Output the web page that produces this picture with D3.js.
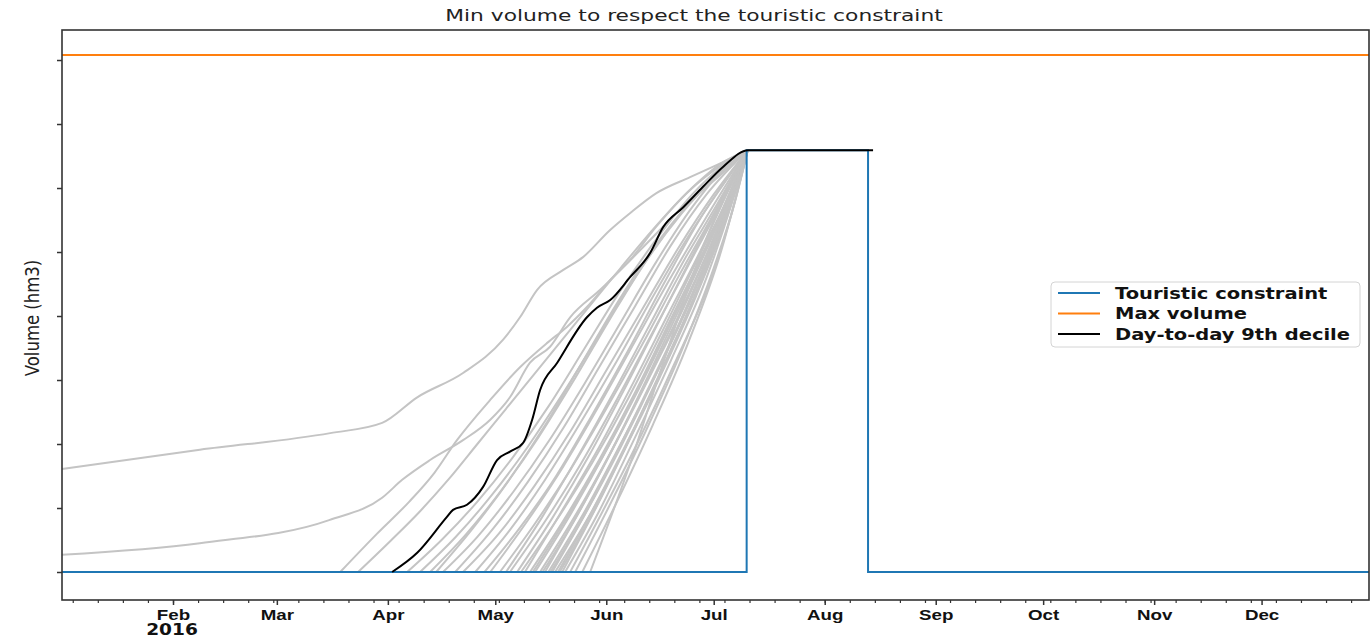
<!DOCTYPE html>
<html>
<head>
<meta charset="utf-8">
<script src="https://cdn.jsdelivr.net/npm/d3@7"></script>
<style>
body { margin: 0; background: #fff; }
svg { display: block; font-family: "DejaVu Sans", sans-serif; }
</style>
</head>
<body>
<svg width="1371" height="638"></svg>
<script>
// ---- data (x = day of 2016 counted from Jan 1, y = volume) ----
const yTicks = [0, 10, 20, 30, 40, 50, 60, 70, 80];
const monthLabels = ["Feb", "Mar", "Apr", "May", "Jun", "Jul", "Aug", "Sep", "Oct", "Nov", "Dec"];
const yearLabel = "2016";

const maxVolume = 80.8;

// touristic constraint : zero, then the summer plateau
const touristic = [[0, 0], [191.2, 0], [191.2, 65.9], [225.1, 65.9], [225.1, 0], [365, 0]];

// 9th decile of the scenarios, day by day
const decile9 = [[92.2, 0], [99.2, 3.0], [107.5, 8.6], [109.2, 9.7], [113.1, 10.5], [117.6, 13.3],
  [121.5, 17.5], [125.1, 18.8], [128.8, 20.2], [131.3, 23.8], [133.5, 28.4], [138.3, 32.7],
  [146.6, 39.8], [149.4, 41.3], [153.1, 42.5], [158.7, 46.1], [164.2, 49.8], [167.9, 53.9],
  [173.5, 57.0], [179, 60.2], [184.6, 63.3], [191.6, 65.9], [226.5, 65.9]];

// one min-volume trajectory per inflow scenario (gray)
const scenarios = [
  [[0, 16.1], [38.5, 19.1], [74.9, 21.7], [89.4, 23.3], [99.2, 27.3], [112, 31.1], [123.2, 36.3], [127.9, 39.8],
   [132.7, 44.1], [140, 47.2], [145.5, 49.2], [153, 53.4], [158.7, 56.1], [166, 59.2], [175.4, 61.7], [184, 63.9], [191.5, 65.9]],
  [[0, 2.7], [38.5, 4.5], [74.6, 8.1], [89.4, 11.6], [95, 14.4], [102.8, 17.5], [112, 20.6], [119.6, 23.8],
   [125.1, 27.3], [130.7, 32.7], [136.3, 35.2], [141.9, 39.8], [150.3, 44.1], [161.5, 50.3], [172.6, 56.6], [183.8, 62], [191.5, 65.9]],
  [[77.7, 0], [88, 6], [97, 11], [104, 15.5], [110.3, 20.6], [119.6, 26.9], [127.9, 32], [135.5, 35.8], [141, 38.3],
   [146.6, 41.4], [153.9, 46.1], [158.7, 48.8], [166, 54], [175, 59.5], [184, 63.5], [191.5, 65.9]],
  [[82.7, 0], [92, 5], [100, 9.5], [108, 14.5], [116, 20], [124, 25.5], [132, 31], [140, 36.5], [148, 42],
   [156, 47.5], [165, 53.5], [175, 59.5], [184, 63.8], [191.5, 65.9]],
  [[96.4, 0], [106, 5], [116, 11], [126, 18], [136, 26], [146, 35], [156, 44], [166, 52], [176, 59], [184, 63.2], [191.5, 65.9]],
  [[100, 0], [110, 5.5], [120, 12], [130, 19.5], [140, 28], [150, 37], [160, 46], [170, 54], [180, 60.5], [191.5, 65.9]],
  [[102.8, 0], [113, 6], [123, 13], [133, 21], [143, 30], [153, 39.5], [163, 48.5], [173, 56], [182, 61.5], [191.5, 65.9]],
  [[104.5, 0], [115, 7], [125, 14.5], [135, 23], [145, 32.5], [155, 42], [165, 50.5], [175, 57.5], [184, 62.5], [191.5, 65.9]],
  [[106.4, 0], [116, 5.5], [126, 12.5], [136, 20.5], [146, 29.5], [156, 39], [166, 48.5], [176, 57], [184, 62.5], [191.5, 65.9]],
  [[109.8, 0], [120, 6.5], [130, 14], [140, 22.5], [150, 32], [160, 41.5], [170, 51], [180, 59], [191.5, 65.9]],
  [[112, 0], [122, 6], [132, 13.5], [142, 22], [152, 31.5], [162, 41], [172, 50.5], [182, 59], [191.5, 65.9]],
  [[115.4, 0], [125, 6.5], [135, 14.5], [145, 23.5], [155, 33], [165, 43], [175, 52.5], [184, 60], [191.5, 65.9]],
  [[118, 0], [128, 7], [138, 15], [148, 24.5], [158, 34.5], [168, 45], [178, 55], [191.5, 65.9]],
  [[119.6, 0], [130, 8], [140, 16.5], [150, 26], [160, 36], [170, 46], [180, 55.5], [191.5, 65.9]],
  [[122.3, 0], [132, 7.5], [142, 16], [152, 25.5], [162, 35.5], [172, 46], [182, 56], [191.5, 65.9]],
  [[124, 0], [134, 8.5], [144, 18], [154, 28], [164, 38.5], [174, 49], [183, 57.5], [191.5, 65.9]],
  [[125.1, 0], [135, 8], [145, 17], [155, 27], [165, 37.5], [175, 48], [184, 57.5], [191.5, 65.9]],
  [[127.1, 0], [137, 8.5], [147, 18], [157, 28.5], [167, 39.5], [177, 50.5], [185, 59], [191.5, 65.9]],
  [[128.2, 0], [138, 8], [148, 17], [158, 27], [168, 38], [178, 49.5], [186, 58.5], [191.5, 65.9]],
  [[129.3, 0], [139, 9], [149, 18.5], [159, 29], [169, 40], [179, 51], [186, 59.5], [191.5, 65.9]],
  [[130.7, 0], [140, 8], [150, 17.5], [160, 28], [170, 39.5], [180, 51], [186.5, 59], [191.5, 65.9]],
  [[131.5, 0], [141, 8.5], [151, 18], [161, 28.5], [171, 40], [181, 52], [191.5, 65.9]],
  [[132.1, 0], [142, 9], [152, 19], [162, 30], [172, 41.5], [182, 53.5], [191.5, 65.9]],
  [[133.5, 0], [143, 8.5], [153, 18.5], [163, 29.5], [173, 41], [183, 53.5], [191.5, 65.9]],
  [[134.2, 0], [144, 9], [154, 19.5], [164, 31], [174, 43], [184, 55.5], [191.5, 65.9]],
  [[134.9, 0], [145, 10], [155, 20.5], [165, 31.5], [175, 43], [184, 55], [191.5, 65.9]],
  [[135.8, 0], [146, 9.5], [156, 20], [166, 31], [176, 43], [185, 55.5], [191.5, 65.9]],
  [[136.4, 0], [146, 9], [156, 19.5], [166, 31], [176, 43.5], [185, 56], [191.5, 65.9]],
  [[136.9, 0], [147, 10], [157, 21], [167, 32.5], [177, 44.5], [186, 57], [191.5, 65.9]],
  [[137.7, 0], [147, 8.5], [157, 19], [167, 30.5], [177, 43], [186, 56], [191.5, 65.9]],
  [[138.5, 0], [148, 9.5], [158, 20.5], [168, 32], [178, 45], [186, 56.5], [191.5, 65.9]],
  [[139, 0], [149, 10], [159, 21.5], [169, 33.5], [179, 46], [187, 58], [191.5, 65.9]],
  [[139.7, 0], [150, 11], [160, 22.5], [170, 34.5], [180, 47.5], [187, 58], [191.5, 65.9]],
  [[140.5, 0], [150, 9.5], [160, 21], [170, 33], [180, 46], [187, 57.5], [191.5, 65.9]],
  [[141.9, 0], [151, 9.5], [161, 20.5], [171, 32.5], [181, 45.5], [187.5, 57], [191.5, 65.9]],
  [[143.3, 0], [153, 10.5], [163, 22], [173, 34.5], [182, 47.5], [188, 58], [191.5, 65.9]],
  [[145.3, 0], [155, 11], [165, 23], [175, 36], [184, 50], [191.5, 65.9]],
  [[147.5, 0], [158.7, 17], [167.9, 32.7], [177.4, 48.3], [186.6, 60.8], [191.5, 65.9]]
];

const legendItems = [
  { label: "Touristic constraint", color: "#1f77b4" },
  { label: "Max volume", color: "#ff7f0e" },
  { label: "Day-to-day 9th decile", color: "#000000" }
];

// ---- layout ----
const svg = d3.select("svg");
const plot = { left: 62, top: 30, right: 1369, bottom: 600 };

const t0 = Date.UTC(2016, 0, 1);
const toDate = d => new Date(t0 + d * 864e5);

const x = d3.scaleUtc()
  .domain([toDate(0), toDate(365)])
  .range([plot.left, plot.right]);

const y = d3.scaleLinear()
  .domain([-4.375, 84.69])
  .range([plot.bottom, plot.top]);

const straight = d3.line().x(p => x(toDate(p[0]))).y(p => y(p[1]));
const smooth = d3.line().x(p => x(toDate(p[0]))).y(p => y(p[1])).curve(d3.curveMonotoneX);

// gray scenarios
svg.append("g")
  .selectAll("path")
  .data(scenarios)
  .enter()
  .append("path")
  .attr("d", smooth)
  .attr("fill", "none")
  .attr("stroke", "#c4c4c4")
  .attr("stroke-width", 2);

// touristic constraint
svg.append("path")
  .attr("d", straight(touristic))
  .attr("fill", "none")
  .attr("stroke", "#1f77b4")
  .attr("stroke-width", 2);

// max volume
svg.append("path")
  .attr("d", straight([[0, maxVolume], [365, maxVolume]]))
  .attr("fill", "none")
  .attr("stroke", "#ff7f0e")
  .attr("stroke-width", 2);

// decile
svg.append("path")
  .attr("d", smooth(decile9))
  .attr("fill", "none")
  .attr("stroke", "#000")
  .attr("stroke-width", 2);

// frame
svg.append("rect")
  .attr("x", plot.left)
  .attr("y", plot.top)
  .attr("width", plot.right - plot.left)
  .attr("height", plot.bottom - plot.top)
  .attr("fill", "none")
  .attr("stroke", "#333")
  .attr("stroke-width", 1.6);

// y axis: ticks only
const yAxis = svg.append("g")
  .attr("transform", `translate(${plot.left},0)`)
  .call(d3.axisLeft(y).tickValues(yTicks).tickSize(5).tickFormat(""));
yAxis.select(".domain").remove();
yAxis.selectAll("line").attr("stroke", "#333").attr("stroke-width", 1.5);

// x axis: weekly minor ticks + monthly major ticks
const minor = svg.append("g")
  .attr("transform", `translate(0,${plot.bottom})`)
  .call(d3.axisBottom(x).tickValues(d3.utcMondays(toDate(0), toDate(365))).tickSize(3).tickFormat(""));
minor.select(".domain").remove();
minor.selectAll("line").attr("stroke", "#333").attr("stroke-width", 1.2);

const majorTicks = d3.utcMonths(toDate(31), toDate(340));
const major = svg.append("g")
  .attr("transform", `translate(0,${plot.bottom})`)
  .call(d3.axisBottom(x).tickValues(majorTicks).tickSize(5).tickPadding(4)
    .tickFormat((d, i) => monthLabels[i]));
major.select(".domain").remove();
major.selectAll("line").attr("stroke", "#333").attr("stroke-width", 1.5);
major.selectAll("text")
  .attr("fill", "#111")
  .attr("font-size", 15)
  .attr("font-weight", "bold")
  .attr("transform", "scale(1.25,1)");

svg.append("text")
  .attr("transform", `translate(${x(majorTicks[0]) - 1},${plot.bottom + 35}) scale(1.24,1)`)
  .attr("text-anchor", "middle")
  .attr("font-size", 15)
  .attr("font-weight", "bold")
  .attr("fill", "#111")
  .text(yearLabel);

// title
svg.append("text")
  .attr("transform", "translate(694,21) scale(1.32,1)")
  .attr("text-anchor", "middle")
  .attr("font-size", 16.5)
  .attr("fill", "#222")
  .text("Min volume to respect the touristic constraint");

// y label
svg.append("text")
  .attr("transform", "translate(39,318) scale(1.2,1) rotate(-90)")
  .attr("text-anchor", "middle")
  .attr("font-size", 16.5)
  .attr("fill", "#222")
  .text("Volume (hm3)");

// legend
const legend = svg.append("g").attr("transform", "translate(1051,282)");
legend.append("rect")
  .attr("width", 309)
  .attr("height", 65)
  .attr("rx", 4)
  .attr("fill", "#fff")
  .attr("fill-opacity", 0.8)
  .attr("stroke", "#d4d4d4");

const rows = legend.selectAll("g.row")
  .data(legendItems)
  .enter()
  .append("g")
  .attr("class", "row")
  .attr("transform", (d, i) => `translate(0,${11 + i * 20.5})`);

rows.append("line")
  .attr("x1", 7).attr("x2", 49)
  .attr("stroke", d => d.color)
  .attr("stroke-width", 2);

rows.append("text")
  .attr("transform", "translate(64,5.5) scale(1.3,1)")
  .attr("font-size", 15)
  .attr("font-weight", "bold")
  .attr("fill", "#111")
  .text(d => d.label);
</script>
</body>
</html>
